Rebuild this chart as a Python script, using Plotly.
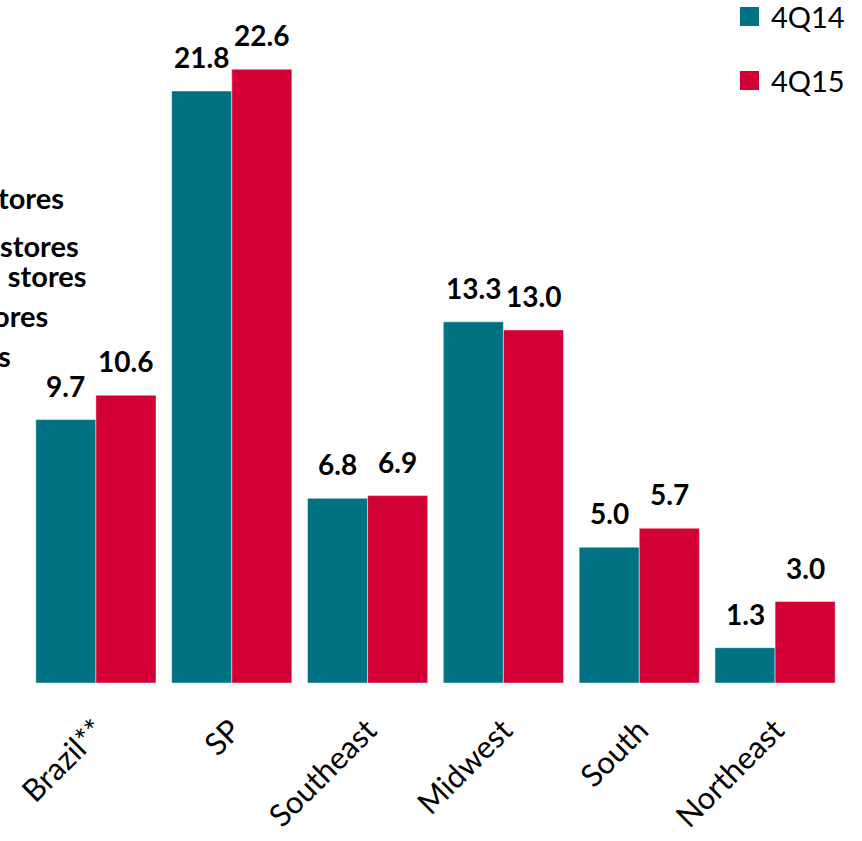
import plotly.graph_objects as go

regions = ["Brazil**", "SP", "Southeast", "Midwest", "South", "Northeast"]
series_names = ["4Q14", "4Q15"]
values_4q14 = [9.7, 21.8, 6.8, 13.3, 5.0, 1.3]
values_4q15 = [10.6, 22.6, 6.9, 13.0, 5.7, 3.0]
side_notes = ["tores", "stores", "3 stores", "ores", "s"]

TEAL = "#007282"
RED = "#D20035"
FONT = "Lato"

W, H = 862, 841
fig = go.Figure()
for name, vals, col in [(series_names[0], values_4q14, TEAL),
                        (series_names[1], values_4q15, RED)]:
    fig.add_trace(go.Bar(
        x=regions, y=vals, name=name,
        marker=dict(color=col, line=dict(color="rgba(255,255,255,0.6)", width=0.8)),
        showlegend=False, hoverinfo="skip",
    ))

# value labels above each bar
annotations = []
for vals, shift in [(values_4q14, -30), (values_4q15, 30)]:
    for r, v in zip(regions, vals):
        annotations.append(dict(
            x=r, y=v, xref="x", yref="y", text=f"<b>{v:.1f}</b>",
            showarrow=False, xanchor="center", yanchor="bottom",
            xshift=shift, yshift=15,
            font=dict(family=FONT, size=28, color="black"),
        ))

# manual legend at top right
shapes = []
legend_rows = [(series_names[0], TEAL, 16), (series_names[1], RED, 80)]
for name, col, ymid in legend_rows:
    shapes.append(dict(type="rect", xref="paper", yref="paper",
                       x0=(740 - 28) / (843 - 28), x1=(759 - 28) / (843 - 28),
                       y0=1 - (ymid - 9) / 683, y1=1 - (ymid + 10) / 683,
                       fillcolor=col, line=dict(width=0)))
    annotations.append(dict(
        xref="paper", yref="paper", x=(769 - 28) / (843 - 28), y=1 - ymid / 683,
        text=name, showarrow=False, xanchor="left", yanchor="middle",
        font=dict(family=FONT, size=29, color="black"),
    ))

# side notes running in from the left edge
note_pos = [(66, 197), (81, 245), (89, 275), (50, 315), (13, 355)]
for txt, (xr, yc) in zip(side_notes, note_pos):
    annotations.append(dict(
        xref="paper", yref="paper", x=(xr - 28) / (843 - 28), y=1 - yc / 683,
        text=f"<b>{txt}</b>", showarrow=False, xanchor="right", yanchor="middle",
        font=dict(family=FONT, size=29, color="black"),
    ))

fig.update_layout(
    width=W, height=H,
    margin=dict(l=28, r=W - 843, t=0, b=H - 683),
    paper_bgcolor="white", plot_bgcolor="white",
    barmode="group", bargap=0.115, bargroupgap=0,
    annotations=annotations, shapes=shapes,
    font=dict(family=FONT, color="black"),
)
fig.update_xaxes(
    tickangle=-45, tickfont=dict(family=FONT, size=31, color="black"),
    showgrid=False, showline=False, ticks="", ticklabelstandoff=22,
)
fig.update_yaxes(range=[0, 25.15], visible=False, showgrid=False)

fig.write_html("out.html")
